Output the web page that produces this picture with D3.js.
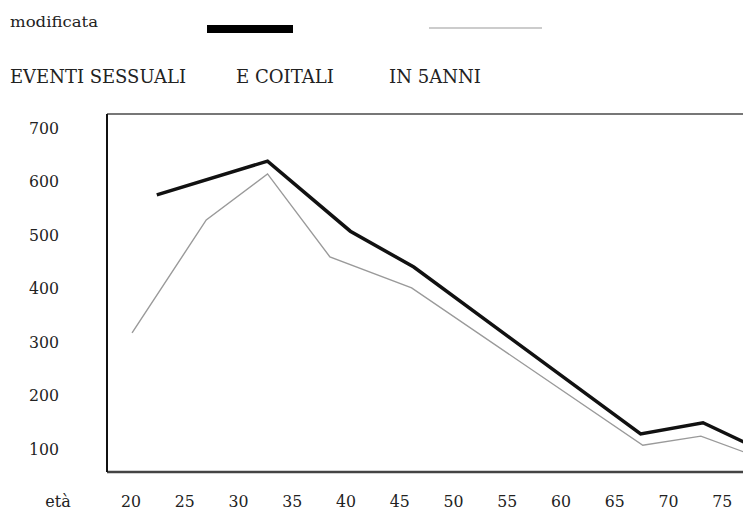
<!DOCTYPE html>
<html>
<head>
<meta charset="utf-8">
<script src="https://cdn.jsdelivr.net/npm/d3@7"></script>
<style>
    body { margin: 0; background: #fff; }
    text { font-family: "DejaVu Serif", "Liberation Serif", Times, serif; }
</style>
</head>
<body>
<div id="chart"></div>
<script>
// ages (x) and events in 5 years (y)
const agesModificata = [22.4, 32.7, 40.4, 46.3, 67.4, 73.2, 77.2];
const valuesModificata = [575, 638, 507, 440, 128, 149, 111];

const agesOther = [20.1, 27.0, 32.7, 38.5, 46.1, 67.6, 73.0, 77.2];
const valuesOther = [317, 528, 614, 459, 401, 107, 124, 93];

const xTicks = [20, 25, 30, 35, 40, 45, 50, 55, 60, 65, 70, 75];
const yTicks = [100, 200, 300, 400, 500, 600, 700];

const titleParts = [
    {text: "EVENTI SESSUALI", x: 10, len: 176},
    {text: "E COITALI", x: 236, len: 98},
    {text: "IN 5ANNI", x: 389, len: 92}
];

let width = 743, height = 512;

let svg = d3.select("#chart").append("svg")
    .attr("width", width)
    .attr("height", height);

// plot frame (right side runs off the page)
let plot = {left: 107, right: 760, top: 114, bottom: 472};

let xScale = d3.scaleLinear()
    .domain([17.77, 78.5])
    .range([plot.left, plot.right]);

let yScale = d3.scaleLinear()
    .domain([57, 726])
    .range([plot.bottom, plot.top]);

// frame
svg.append("line")
    .attr("x1", plot.left).attr("x2", plot.right)
    .attr("y1", plot.top).attr("y2", plot.top)
    .attr("stroke", "#777").attr("stroke-width", 2);
svg.append("line")
    .attr("x1", plot.left).attr("x2", plot.right)
    .attr("y1", plot.bottom).attr("y2", plot.bottom)
    .attr("stroke", "#444").attr("stroke-width", 2.5);
svg.append("line")
    .attr("x1", plot.left).attr("x2", plot.left)
    .attr("y1", plot.top).attr("y2", plot.bottom)
    .attr("stroke", "#111").attr("stroke-width", 2);

// y tick labels
svg.selectAll(".ylab")
    .data(yTicks)
    .enter().append("text")
    .attr("class", "ylab")
    .attr("x", 44)
    .attr("y", d => yScale(d))
    .attr("dy", "0.35em")
    .attr("text-anchor", "middle")
    .attr("font-size", 16)
    .attr("fill", "#222")
    .attr("textLength", 30)
    .attr("lengthAdjust", "spacingAndGlyphs")
    .text(d => d);

// x tick labels
svg.selectAll(".xlab")
    .data(xTicks)
    .enter().append("text")
    .attr("class", "xlab")
    .attr("x", d => xScale(d))
    .attr("y", 507)
    .attr("text-anchor", "middle")
    .attr("font-size", 16)
    .attr("fill", "#222")
    .attr("textLength", 20)
    .attr("lengthAdjust", "spacingAndGlyphs")
    .text(d => d);

svg.append("text")
    .attr("x", 58)
    .attr("y", 507)
    .attr("text-anchor", "middle")
    .attr("font-size", 16)
    .attr("fill", "#222")
    .text("età");

// lines
let line = d3.line()
    .x(d => xScale(d[0]))
    .y(d => yScale(d[1]));

let otherData = d3.zip(agesOther, valuesOther);
let modData = d3.zip(agesModificata, valuesModificata);

svg.append("path")
    .datum(otherData)
    .attr("d", line)
    .attr("fill", "none")
    .attr("stroke", "#9a9a9a")
    .attr("stroke-width", 1.4)
    .attr("stroke-linejoin", "miter");

svg.append("path")
    .datum(modData)
    .attr("d", line)
    .attr("fill", "none")
    .attr("stroke", "#111")
    .attr("stroke-width", 3.5)
    .attr("stroke-linejoin", "miter");

// legend row
svg.append("text")
    .attr("x", 10)
    .attr("y", 27)
    .attr("font-size", 15)
    .attr("fill", "#222")
    .attr("textLength", 88)
    .attr("lengthAdjust", "spacingAndGlyphs")
    .text("modificata");

svg.append("line")
    .attr("x1", 207).attr("x2", 293)
    .attr("y1", 29).attr("y2", 29)
    .attr("stroke", "#000").attr("stroke-width", 8);

svg.append("line")
    .attr("x1", 429).attr("x2", 542)
    .attr("y1", 28).attr("y2", 28)
    .attr("stroke", "#bbb").attr("stroke-width", 1.5);

// title
svg.selectAll(".title")
    .data(titleParts)
    .enter().append("text")
    .attr("class", "title")
    .attr("x", d => d.x)
    .attr("y", 83)
    .attr("font-size", 18)
    .attr("fill", "#222")
    .attr("textLength", d => d.len)
    .attr("lengthAdjust", "spacingAndGlyphs")
    .text(d => d.text);
</script>
</body>
</html>
